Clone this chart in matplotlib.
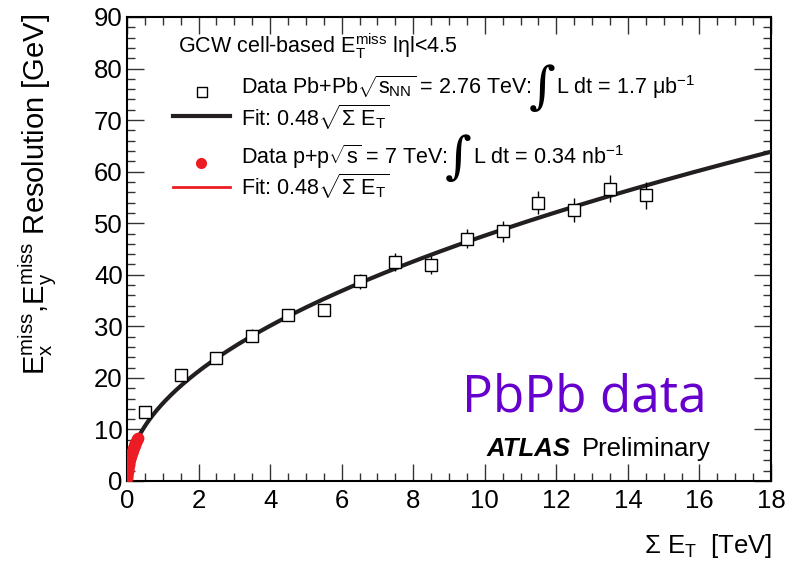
import numpy as np
import matplotlib
matplotlib.use("Agg")
import matplotlib.pyplot as plt
from matplotlib.ticker import MultipleLocator

plt.rcParams['font.family'] = ['Liberation Sans', 'DejaVu Sans']
plt.rcParams['mathtext.fontset'] = 'custom'
plt.rcParams['mathtext.rm'] = 'Liberation Sans'
plt.rcParams['mathtext.it'] = 'Liberation Sans:italic'
plt.rcParams['mathtext.bf'] = 'Liberation Sans:bold'
plt.rcParams['mathtext.sf'] = 'Liberation Sans'

# PbPb data (Sum ET in TeV, resolution in GeV)
pb_sumet = [0.5, 1.5, 2.5, 3.5, 4.5, 5.5, 6.5, 7.5, 8.5, 9.5, 10.5, 11.5, 12.5, 13.5, 14.5]
pb_res = [13.4, 20.6, 23.9, 28.2, 32.2, 33.2, 38.7, 42.5, 41.9, 47.0, 48.4, 54.0, 52.5, 56.7, 55.4]
pb_err = [1.0, 0.8, 1.2, 1.2, 1.2, 1.0, 1.5, 1.8, 1.8, 1.8, 2.0, 2.3, 2.3, 2.6, 2.6]

# pp data (Sum ET in TeV)
pp_sumet = [0.002, 0.004, 0.006, 0.008, 0.010, 0.013, 0.016, 0.020, 0.025, 0.030, 0.036,
            0.042, 0.050, 0.058, 0.066, 0.075, 0.085, 0.095, 0.105, 0.115, 0.128, 0.140,
            0.155, 0.170, 0.185, 0.200, 0.215, 0.230, 0.250, 0.270, 0.290, 0.310]
pp_res = [0.6, 1.0, 1.2, 1.4, 1.6, 1.8, 2.0, 2.2, 2.5, 2.7, 2.9, 3.1, 3.4, 3.7, 3.9, 4.2,
          4.4, 4.7, 4.9, 5.2, 5.4, 5.7, 6.0, 6.2, 6.5, 6.8, 7.0, 7.3, 7.6, 7.9, 8.1, 8.4]

fit_coef = 0.476  # GeV^1/2, sumET in GeV

W, H = 802, 561
fig = plt.figure(figsize=(W/100, H/100), dpi=100)
ax = fig.add_axes([127/W, 1-481/H, (771-127)/W, (481-17)/H])

xf = np.linspace(0, 18, 600)
ax.plot(xf, fit_coef*np.sqrt(xf*1000), color='#231f20', lw=3, zorder=3)

ax.errorbar(pb_sumet, pb_res, yerr=pb_err, fmt='s', mfc='white', mec='black', mew=1.0,
            ms=8, ecolor='black', elinewidth=1.0, capsize=0, zorder=4)
xr = np.linspace(0, 0.31, 100)
ax.plot(xr, fit_coef*np.sqrt(xr*1000), color='#ed1c24', lw=2, zorder=5)
ax.plot(pp_sumet, pp_res, 'o', color='#ed1c24', ms=8.5, mec='none', zorder=6)

ax.set_xlim(0, 18)
ax.set_ylim(0, 90)
ax.xaxis.set_major_locator(MultipleLocator(2))
ax.xaxis.set_minor_locator(MultipleLocator(0.5))
ax.yaxis.set_major_locator(MultipleLocator(10))
ax.yaxis.set_minor_locator(MultipleLocator(2))
ax.tick_params(which='both', direction='in', top=True, right=True, width=1.0, color='#333333')
ax.tick_params(which='major', length=12, labelsize=18.5, pad=3)
ax.tick_params(which='minor', length=6)
ax.tick_params(axis='x', pad=6)
for s in ax.spines.values():
    s.set_linewidth(1.5)

def T(x, y, s, **kw):
    return fig.text(x/W, 1-y/H, s, **kw)

T(772, 553, r'$\Sigma$ E$_{\rm T}$  [TeV]', ha='right', va='baseline', fontsize=18.5)
T(38, 14, r'E$_{\rm x}^{\rm miss}$,E$_{\rm y}^{\rm miss}$ Resolution [GeV]',
  rotation=90, ha='center', va='top', fontsize=21)

fs = 15.5
renderer = fig.canvas.get_renderer()

def chain(x, y, pieces):
    """Draw text pieces one after another on the same baseline."""
    for s, kw in pieces:
        dy = kw.pop('dy', 0)
        dx = kw.pop('dx', 0)
        t = T(x + dx, y + dy, s, va='baseline', **kw)
        bb = t.get_window_extent(renderer=renderer)
        x = bb.x1

T(178, 53, r'GCW cell-based E$_{\rm T}^{\rm miss}$ lηl<4.5', fontsize=fs, va='baseline')
chain(241, 94, [(r'Data Pb+Pb$\sqrt{\rm s_{NN}}$ = 2.76 TeV:', dict(fontsize=fs)),
                ('\u222b', dict(fontsize=37, family=['DejaVu Serif'], dy=9, dx=-3)),
                (r'L dt = 1.7 μb$^{-1}$', dict(fontsize=fs, dx=1))])
T(241, 126, r'Fit: 0.48$\sqrt{\Sigma\ \rm E_T}$', fontsize=fs, va='baseline')
chain(241, 164, [(r'Data p+p$\sqrt{\rm s}$ = 7 TeV:', dict(fontsize=fs)),
                 ('\u222b', dict(fontsize=37, family=['DejaVu Serif'], dy=9, dx=-3)),
                 (r'L dt = 0.34 nb$^{-1}$', dict(fontsize=fs, dx=1))])
T(241, 195, r'Fit: 0.48$\sqrt{\Sigma\ \rm E_T}$', fontsize=fs, va='baseline')

# legend markers
fig.lines.append(plt.Line2D([202/W], [1-92/H], marker='s', mfc='white', mec='black', ms=7.5, mew=1.0,
                            transform=fig.transFigure, figure=fig))
fig.lines.append(plt.Line2D([173/W, 230/W], [1-116/H]*2, color='#231f20', lw=3,
                            transform=fig.transFigure, figure=fig))
fig.lines.append(plt.Line2D([201/W], [1-163/H], marker='o', color='#ed1c24', ms=8, mec='none',
                            transform=fig.transFigure, figure=fig))
fig.lines.append(plt.Line2D([173/W, 230/W], [1-187/H]*2, color='#ed1c24', lw=2,
                            transform=fig.transFigure, figure=fig))

T(462, 411, 'PbPb data', fontsize=37, color='#6600cc', family=['Open Sans', 'DejaVu Sans'], va='baseline')
T(487, 456, 'ATLAS', fontsize=18.5, fontweight='bold', style='italic', va='baseline')
T(582, 456, 'Preliminary', fontsize=18.5, va='baseline')

fig.savefig('out.png', dpi=100)
